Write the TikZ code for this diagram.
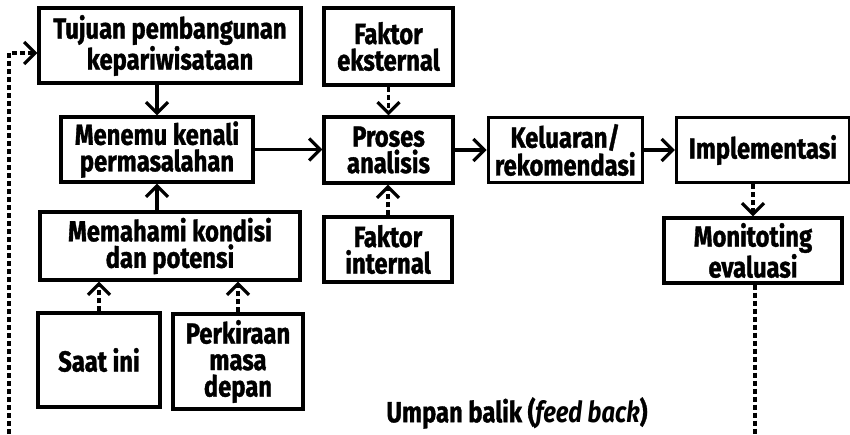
\documentclass[tikz,border=0pt]{standalone}
\usepackage{fontspec}
\setmainfont{Fira Sans}[FakeStretch=0.82, BoldFeatures={FakeBold=1.2}]
\usepackage{tikz}
\usetikzlibrary{arrows.meta,calc,positioning}

\begin{document}
\begin{tikzpicture}[
  x=1pt, y=-1pt,
  >={Straight Barb[length=11pt,width=22pt]},
  every node/.style={text=black, font=\fontsize{29}{26.5}\selectfont\bfseries},
  box/.style={draw=black, line width=3.2pt, align=center, inner sep=0pt},
  edge/.style={->, line width=3.2pt, draw=black},
  dashedge/.style={->, line width=3.2pt, draw=black, dash pattern=on 5pt off 3pt}
]
\useasboundingbox (0,0) rectangle (850,434);

% ---- left column ----
\node[box, minimum width=262pt, minimum height=75pt] (tujuan) at (170,45.5) {Tujuan pembangunan\\kepariwisataan};
\node[box, minimum width=192pt, minimum height=65pt] (menemu) at (157,149.5) {Menemu kenali\\permasalahan};
\node[box, minimum width=260pt, minimum height=68pt] (memahami) at (170,246) {Memahami kondisi\\dan potensi};
\node[box, minimum width=122pt, minimum height=94pt] (saat) at (99,360) {Saat ini};
\node[box, minimum width=130pt, minimum height=95pt] (perkiraan) at (238,361.5) {Perkiraan\\masa\\depan};

% ---- analysis chain ----
\node[box, minimum width=129pt, minimum height=66pt] (proses) at (388.5,150) {Proses\\analisis};
\node[box, minimum width=129pt, minimum height=77pt] (eksternal) at (388.5,46.5) {Faktor\\eksternal};
\node[box, minimum width=128pt, minimum height=65pt] (internal) at (388,249.5) {Faktor\\internal};
\node[box, minimum width=154pt, minimum height=65pt, right=32pt of proses] (keluaran) {Keluaran/\\rekomendasi};
\node[box, minimum width=173pt, minimum height=65pt, right=31pt of keluaran] (impl) {Implementasi};
\node[box, minimum width=178pt, minimum height=65pt] (monitor) at (753,250.5) {Monitoting\\evaluasi};

\node (umpan) at (517,413) {Umpan balik (\textit{feed back})};

% ---- feedback ends ----
\coordinate (fbL) at (9,434);
\coordinate (fbR) at (755,434);

% ---- edges ----
\draw[edge] (menemu.north |- tujuan.south) -- (menemu.north);
\draw[edge] (menemu.south |- memahami.north) -- (menemu.south);
\draw[edge] (menemu.east) -- (menemu.east -| proses.west);
\draw[edge] (proses.east) -- (proses.east -| keluaran.west);
\draw[edge] (keluaran.east) -- (keluaran.east -| impl.west);

\draw[dashedge] (saat.north) -- (saat.north |- memahami.south);
\draw[dashedge] (perkiraan.north) -- (perkiraan.north |- memahami.south);
\draw[dashedge] (eksternal.south) -- (eksternal.south |- proses.north);
\draw[dashedge] (internal.north) -- (internal.north |- proses.south);
\draw[dashedge] (monitor.north |- impl.south) -- (monitor.north);

% ---- feedback loop ----
\draw[dashedge, -] (monitor.south -| fbR) -- (fbR);
\draw[dashedge] (fbL) |- ($(tujuan.west)+(0,7.5)$);

\end{tikzpicture}
\end{document}
